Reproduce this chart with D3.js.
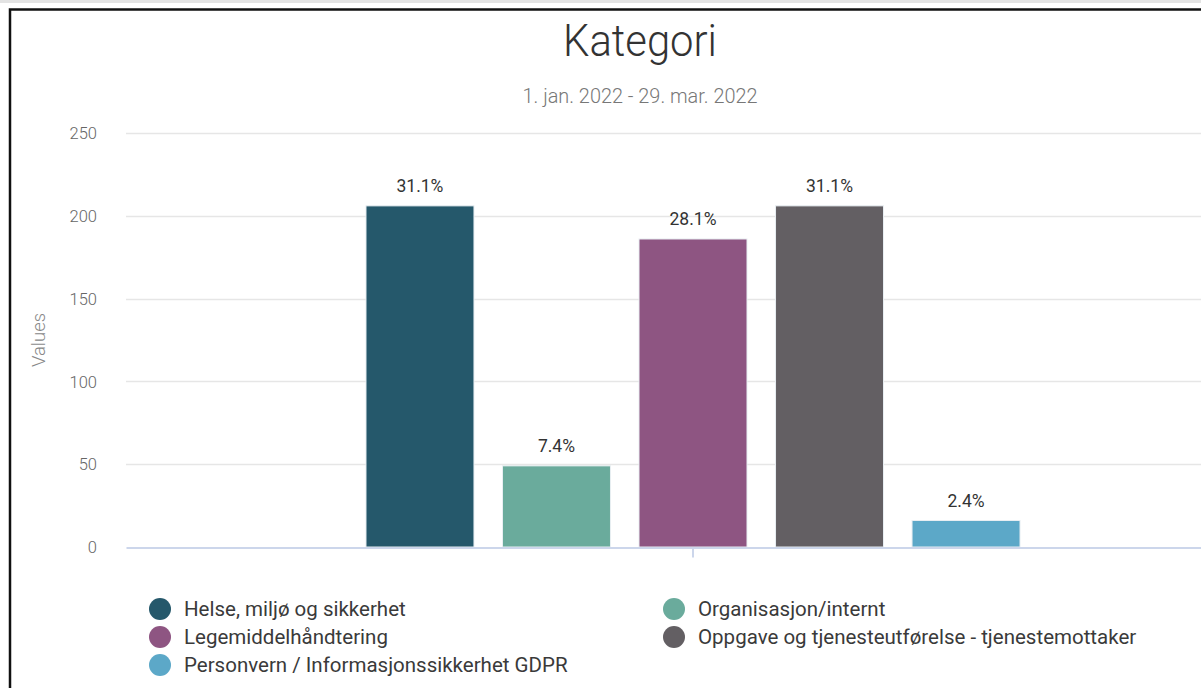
<!DOCTYPE html>
<html>
<head>
<meta charset="utf-8">
<script src="https://cdn.jsdelivr.net/npm/d3@7"></script>
<style>
  html, body { margin: 0; padding: 0; background: #fff; overflow: hidden; }
  body { font-family: Roboto, "Noto Sans", sans-serif; }
</style>
</head>
<body>
<div id="target_area"></div>
<script>
// data
var categories = ["Kategori"];
var seriesNames = ["Helse, miljø og sikkerhet", "Organisasjon/internt", "Legemiddelhåndtering",
  "Oppgave og tjenesteutførelse - tjenestemottaker", "Personvern / Informasjonssikkerhet GDPR"];
var seriesValues = [206, 49, 186, 206, 16];
var seriesColors = ["#25586b", "#6aab9c", "#8e5582", "#635f63", "#5ca8c8"];
var yTicks = [0, 50, 100, 150, 200, 250];

var width = 1201, height = 688;
var margin = {top: 133, right: -59, bottom: 141, left: 126};

var svg = d3.select("#target_area")
  .append("svg")
  .attr("width", width)
  .attr("height", height);

// light strip at top and the black frame
svg.append("rect").attr("x", 0).attr("y", 0).attr("width", width).attr("height", 3).attr("fill", "#e3e3e3");
svg.append("path")
  .attr("d", "M10," + height + "V9.5H" + width)
  .attr("fill", "none").attr("stroke", "#111").attr("stroke-width", 2.5);

var x0 = d3.scaleBand().domain(categories)
  .range([margin.left, width - margin.right]).paddingInner(0).paddingOuter(0);
var x1 = d3.scaleBand().domain(seriesNames)
  .range([0, x0.bandwidth()]).paddingInner(0.209).paddingOuter(1.758);
var y = d3.scaleLinear().domain([0, 250]).range([height - margin.bottom, margin.top]);

var total = d3.sum(seriesValues);

// gridlines
svg.append("g").selectAll("line")
  .data(yTicks.filter(function (d) { return d > 0; }))
  .enter().append("line")
  .attr("x1", margin.left).attr("x2", width)
  .attr("y1", function (d) { return Math.round(y(d)) + 0.5; })
  .attr("y2", function (d) { return Math.round(y(d)) + 0.5; })
  .attr("stroke", "#e6e6e6").attr("stroke-width", 1.5);

// y axis labels
var yAxis = svg.append("g")
  .attr("transform", "translate(" + (margin.left - 29) + ",0)")
  .call(d3.axisLeft(y).tickValues(yTicks).tickSize(0).tickPadding(0));
yAxis.select(".domain").remove();
yAxis.selectAll("text")
  .attr("fill", "#666").style("font-size", "16.5px").style("font-family", "Roboto, sans-serif")
  .style("font-weight", 300)
  .attr("dy", "0.35em");

svg.append("text")
  .attr("transform", "translate(45," + y(125) + ") rotate(-90)")
  .attr("text-anchor", "middle")
  .attr("fill", "#888").style("font-size", "18.5px").style("font-weight", 300)
  .text("Values");

// bars
var g = svg.append("g");
g.selectAll("rect")
  .data(seriesValues)
  .enter().append("rect")
  .attr("x", function (d, i) { return x0(categories[0]) + x1(seriesNames[i]); })
  .attr("y", function (d) { return y(d); })
  .attr("width", x1.bandwidth())
  .attr("height", function (d) { return y(0) - y(d); })
  .attr("fill", function (d, i) { return seriesColors[i]; })
  .attr("stroke", "#e8eef2").attr("stroke-width", 1);

g.selectAll("text")
  .data(seriesValues)
  .enter().append("text")
  .attr("x", function (d, i) { return x0(categories[0]) + x1(seriesNames[i]) + x1.bandwidth() / 2; })
  .attr("y", function (d) { return y(d) - 14; })
  .attr("text-anchor", "middle")
  .attr("fill", "#333").style("font-size", "17.5px")
  .text(function (d) { return (d / total * 100).toFixed(1) + "%"; });

// x axis line and tick
var xAxis = svg.append("g")
  .attr("transform", "translate(0," + (y(0) + 0.5) + ")")
  .call(d3.axisBottom(x0).tickSize(10).tickSizeOuter(0).tickFormat(""));
xAxis.select(".domain").attr("stroke", "#ccd6eb").attr("stroke-width", 2);
xAxis.selectAll(".tick line").attr("stroke", "#ccd6eb").attr("stroke-width", 2);

// title
svg.append("text")
  .attr("x", 640).attr("y", 56)
  .attr("text-anchor", "middle")
  .attr("fill", "#333").style("font-size", "44px").style("font-weight", 300)
  .attr("textLength", 154).attr("lengthAdjust", "spacingAndGlyphs")
  .text("Kategori");
svg.append("text")
  .attr("x", 640).attr("y", 103)
  .attr("text-anchor", "middle")
  .attr("fill", "#777").style("font-size", "20px").style("font-weight", 300)
  .attr("textLength", 235).attr("lengthAdjust", "spacingAndGlyphs")
  .text("1. jan. 2022 - 29. mar. 2022");

// legend
var legend = svg.append("g").selectAll("g")
  .data(seriesNames)
  .enter().append("g")
  .attr("transform", function (d, i) {
    return "translate(" + (i % 2 ? 674 : 160) + "," + (609 + Math.floor(i / 2) * 28) + ")";
  });
legend.append("circle").attr("r", 11)
  .attr("fill", function (d, i) { return seriesColors[i]; });
legend.append("text")
  .attr("x", 24).attr("dy", "0.35em")
  .attr("fill", "#3a3a3a").style("font-size", "20.5px")
  .text(function (d) { return d; });
</script>
</body>
</html>
